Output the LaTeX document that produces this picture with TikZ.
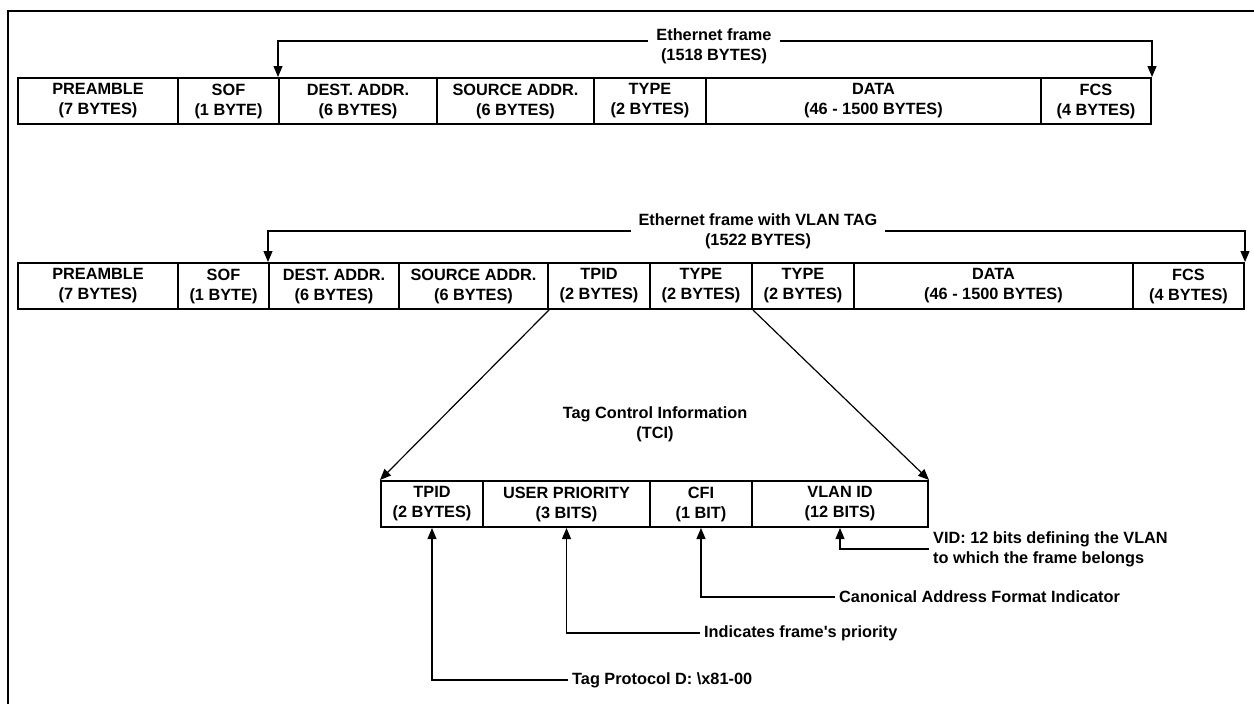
\documentclass[tikz,border=0pt]{standalone}
\usepackage{fontspec}
\setmainfont{Liberation Sans}
\usetikzlibrary{arrows.meta}

\tikzset{
	>={Triangle[length=11pt,width=9pt]},
	cell/.style={draw, line width=2pt, minimum height=46pt, inner sep=0pt, align=center},
	caption/.style={align=center, inner xsep=8pt, inner ysep=3pt},
	note/.style={anchor=west, align=left, inner sep=4pt},
	link/.style={line width=1.2pt},
}

\begin{document}
\begin{tikzpicture}[x=1pt, y=-1pt, font=\bfseries\fontsize{16.3}{20}\selectfont]
		\useasboundingbox (0,0) rectangle (1254,704);
		% Outer frame
		\draw [line width=2.5pt] (1254,11) -- (8,11) -- (8,704);

		% Ethernet frame
		\foreach \l/\r/\n/\txt in {18/178/pre1/{PREAMBLE\\(7 BYTES)}, 178/279/sof1/{SOF\\(1 BYTE)},
				279/437/dst1/{DEST. ADDR.\\(6 BYTES)}, 437/594/src1/{SOURCE ADDR.\\(6 BYTES)},
				594/706/typ1/{TYPE\\(2 BYTES)}, 706/1041/dat1/{DATA\\(46 - 1500 BYTES)},
				1041/1151/fcs1/{FCS\\(4 BYTES)}}
			\node[cell, minimum width=\r-\l] (\n) at ({(\l+\r)/2},101) {\txt};
		\coordinate (h1) at (714,41);
		\draw [link, <->] (dst1.north west) |- (h1) -| (fcs1.north east);
		\node[caption, fill=white] (t1) at (714,46) {Ethernet frame\\(1518 BYTES)};

		% Ethernet frame with VLAN tag
		\foreach \l/\r/\n/\txt in {18/178/pre2/{PREAMBLE\\(7 BYTES)}, 178/269/sof2/{SOF\\(1 BYTE)},
				269/399/dst2/{DEST. ADDR.\\(6 BYTES)}, 399/548/src2/{SOURCE ADDR.\\(6 BYTES)},
				548/650/tpid2/{TPID\\(2 BYTES)}, 650/752/typa2/{TYPE\\(2 BYTES)},
				752/854/typb2/{TYPE\\(2 BYTES)}, 854/1133/dat2/{DATA\\(46 - 1500 BYTES)},
				1133/1244/fcs2/{FCS\\(4 BYTES)}}
			\node[cell, minimum width=\r-\l] (\n) at ({(\l+\r)/2},286) {\txt};
		\coordinate (h2) at (758,231);
		\draw [link, <->] (dst2.north west) |- (h2) -| (fcs2.north east);
		\node[caption, fill=white] (t2) at (758,231) {Ethernet frame with VLAN TAG\\(1522 BYTES)};

		% Tag control information
		\foreach \l/\r/\n/\txt in {381/483/tpid/{TPID\\(2 BYTES)}, 483/650/prio/{USER PRIORITY\\(3 BITS)},
				650/752/cfi/{CFI\\(1 BIT)}, 752/928/vid/{VLAN ID\\(12 BITS)}}
			\node[cell, minimum width=\r-\l] (\n) at ({(\l+\r)/2},504) {\txt};
		\node[caption] (tci) at (655,424) {Tag Control Information\\(TCI)};
		\draw [link, ->] (src2.south east) -- (tpid.north west);
		\draw [link, ->] (typa2.south east) -- (vid.north east);

		% Field notes
		\node[note] (n1) at (568,680) {Tag Protocol D: \textbackslash x81-00};
		\node[note] (n2) at (700,633) {Indicates frame\textquotesingle s priority};
		\node[note] (n3) at (835,597) {Canonical Address Format Indicator};
		\node[note] (n4) at (929,549) {VID: 12 bits defining the VLAN\\to which the frame belongs};
		\draw [link, ->] (n1.west) -| (tpid.south);
		\draw [link, ->] (n2.west) -| (prio.south);
		\draw [link, ->] (n3.west) -| (cfi.south);
		\draw [link, ->] (n4.west) -| (vid.south);
	\end{tikzpicture}
\end{document}
